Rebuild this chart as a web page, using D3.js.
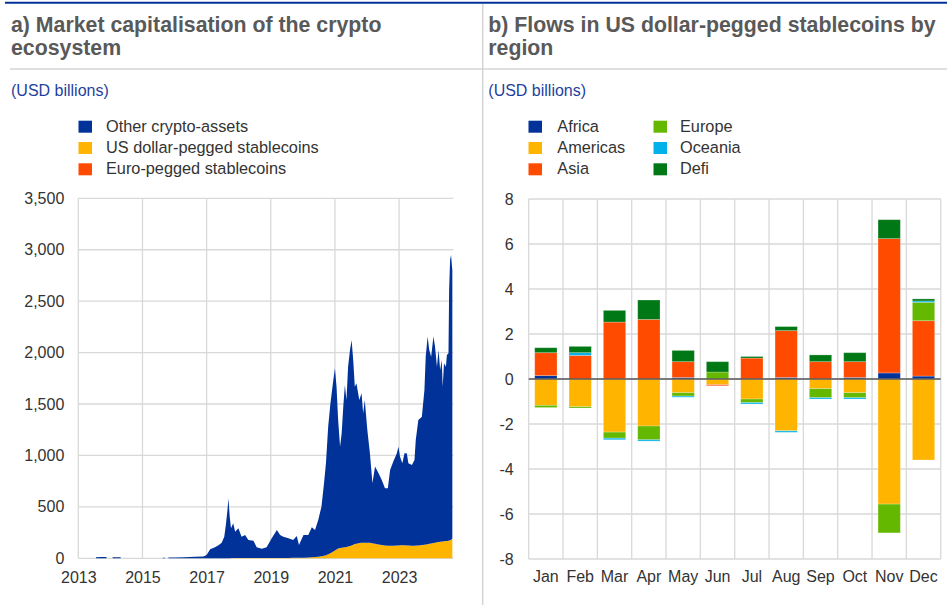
<!DOCTYPE html>
<html>
<head>
    <meta charset="utf-8">
    <title>Crypto market capitalisation and stablecoin flows</title>
    <script src="https://d3js.org/d3.v7.min.js"></script>
    <style>
      body{ margin:0; background:white; }
      text{ font-family:"Liberation Sans", Arial, sans-serif; }
      .title{ font-size:21.3px; font-weight:bold; fill:#595959; }
      .unit{ font-size:16px; fill:#1f3f9c; }
      .legend text{ font-size:16.3px; fill:#333; dominant-baseline:middle; }
      .tick text{ font-size:16px; fill:#333; }
      .grid line{ stroke:#d9d9d9; stroke-width:1.3; }
    </style>
</head>
<body>
<script>
// ---- panel a: market capitalisation (USD billions), x in decimal years ----
var capYears = [2013.55, 2013.70, 2013.88, 2013.95, 2014.07, 2014.20, 2014.32, 2014.40, 2015.63, 2015.70, 2015.75, 2015.81, 2016.00, 2016.30, 2016.64, 2016.90,
  2017.00, 2017.11, 2017.26, 2017.37, 2017.47, 2017.55, 2017.60, 2017.65, 2017.68, 2017.72, 2017.76, 2017.83, 2017.89, 2017.99,
  2018.09, 2018.20, 2018.30, 2018.46, 2018.56, 2018.72, 2018.87,
  2019.03, 2019.19, 2019.29, 2019.39, 2019.55, 2019.70, 2019.81, 2019.88,
  2020.02, 2020.17, 2020.28, 2020.38, 2020.48, 2020.58, 2020.66, 2020.72, 2020.79, 2020.86, 2020.95,
  2021.00, 2021.05, 2021.10, 2021.16, 2021.21, 2021.26, 2021.31, 2021.36, 2021.41, 2021.47, 2021.52, 2021.57, 2021.62, 2021.67, 2021.76, 2021.83, 2021.88, 2021.93,
  2022.01, 2022.09, 2022.17, 2022.25, 2022.36, 2022.46, 2022.56, 2022.65, 2022.72, 2022.82, 2022.93, 2022.98,
  2023.03, 2023.10, 2023.17, 2023.24, 2023.29, 2023.40, 2023.48, 2023.52, 2023.60, 2023.71, 2023.79, 2023.83, 2023.89, 2023.94,
  2024.00, 2024.07, 2024.12, 2024.18, 2024.23, 2024.28, 2024.33, 2024.36, 2024.40, 2024.46, 2024.49, 2024.54, 2024.56, 2024.59, 2024.62, 2024.65, 2024.66];

var otherCrypto = [10, 12, 12, null, 11, 10, 9, null, 6, 6, null, 7, 8, 10, 14, 18,
  31, 86, 106, 125, 151, 209, 323, 469, 582, 404, 290, 338, 257, 290,
  208, 225, 175, 168, 104, 90, 104,
  191, 271, 223, 206, 190, 173, 212, 123,
  221, 219, 291, 263, 356, 482, 704, 894, 1240, 1457, 1668,
  1772, 1583, 1250, 985, 1112, 1369, 1577, 1429, 1748, 1905, 1997, 1796, 1530, 1559, 1391, 1454, 1258, 1387,
  1095, 871, 584, 751, 691, 631, 555, 558, 736, 818, 897, 960,
  862, 797, 895, 896, 799, 785, 834, 1027, 1220, 1249, 1504, 1826, 2018, 1885,
  1817, 2007, 1908, 1708, 1867, 1670, 1766, 1505, 1730, 1696, 1808, 1823, 2437, 2725, 2769, 2647, 2610];

var usdStable = [0, 0, 0, null, 0, 0, 0, null, 0, 0, null, 0, 0, 0, 0, 0,
  1, 1, 1, 1, 1, 1, 1, 1, 1, 1, 2, 2, 2, 2,
  2, 2, 3, 3, 3, 3, 3,
  3, 4, 4, 4, 4, 5, 5, 6,
  6, 8, 10, 12, 16, 20, 25, 30, 40, 50, 65,
  75, 85, 95, 100, 103, 105, 108, 110, 115, 120, 125, 132, 138, 142, 148, 150, 152, 152,
  152, 150, 145, 140, 135, 130, 125, 122, 122, 122, 124, 125,
  126, 126, 126, 125, 124, 122, 122, 123, 125, 128, 132, 134, 137, 140,
  143, 148, 150, 155, 158, 160, 162, 163, 165, 167, 168, 170, 172, 175, 180, 188, 190];

var eurStable = [0, 0, 0, null, 0, 0, 0, null, 0, 0, null, 0, 0, 0, 0, 0,
  0, 0, 0, 0, 0, 0, 0, 0, 0, 0, 0, 0, 0, 0,
  0, 0, 0, 0, 0, 0, 0,
  0, 0, 0, 0, 0, 0, 0, 0,
  0.1, 0.1, 0.1, 0.1, 0.1, 0.1, 0.1, 0.1, 0.2, 0.2, 0.2,
  0.2, 0.2, 0.2, 0.2, 0.2, 0.3, 0.3, 0.3, 0.3, 0.3, 0.3, 0.3, 0.3, 0.3, 0.3, 0.3, 0.3, 0.3,
  0.3, 0.3, 0.3, 0.3, 0.3, 0.3, 0.3, 0.3, 0.3, 0.3, 0.3, 0.3,
  0.3, 0.3, 0.3, 0.4, 0.4, 0.4, 0.4, 0.4, 0.4, 0.4, 0.4, 0.4, 0.4, 0.4,
  0.4, 0.4, 0.4, 0.4, 0.4, 0.5, 0.5, 0.5, 0.5, 0.5, 0.5, 0.5, 0.5, 0.5, 0.5, 0.5, 0.5];

var capTicksX = [2013, 2015, 2017, 2019, 2021, 2023];
var capTicksY = [0, 500, 1000, 1500, 2000, 2500, 3000, 3500];
var capSeries = ["Other crypto-assets", "US dollar-pegged stablecoins", "Euro-pegged stablecoins"];

// ---- panel b: flows in US dollar-pegged stablecoins (USD billions) ----
var months = ["Jan","Feb","Mar","Apr","May","Jun","Jul","Aug","Sep","Oct","Nov","Dec"];
var regions = ["Africa","Americas","Asia","Europe","Oceania","Defi"];
var africa   = [0.15, 0.00, 0.00, 0.00, 0.07, 0.00, 0.00, 0.07, 0.00, 0.07, 0.27, 0.13];
var americas = [-1.17, -1.23, -2.36, -2.09, -0.61, -0.25, -0.89, -2.30, -0.43, -0.61, -5.56, -3.60];
var asia     = [1.02, 1.05, 2.53, 2.65, 0.70, -0.05, 0.93, 2.08, 0.77, 0.70, 5.97, 2.46];
var europe   = [-0.10, -0.06, -0.27, -0.61, -0.15, 0.31, -0.16, -0.01, -0.40, -0.22, -1.28, 0.82];
var oceania  = [0.00, 0.12, -0.07, -0.06, -0.05, 0.00, -0.06, -0.06, -0.06, -0.06, 0.00, 0.06];
var defi     = [0.22, 0.28, 0.52, 0.86, 0.50, 0.46, 0.07, 0.18, 0.30, 0.40, 0.84, 0.09];
var flowTicksY = [-8, -6, -4, -2, 0, 2, 4, 6, 8];

var blue = "#003299", yellow = "#ffb400", orange = "#ff4b00";
var regionColors = [blue, yellow, orange, "#65b800", "#00b1ea", "#007816"];

var svg = d3.select("body").append("svg").attr("width", 947).attr("height", 605);

// frame lines
svg.append("line").attr("x1", 5).attr("x2", 947).attr("y1", 2.7).attr("y2", 2.7).attr("stroke", blue).attr("stroke-width", 2);
svg.append("line").attr("x1", 10).attr("x2", 947).attr("y1", 69).attr("y2", 69).attr("stroke", "#d4d4d4").attr("stroke-width", 1.5);
svg.append("line").attr("x1", 482.7).attr("x2", 482.7).attr("y1", 4).attr("y2", 605).attr("stroke", "#d4d4d4").attr("stroke-width", 1.5);

// titles
function title(x, lines){
  lines.forEach(function(t, i){
    svg.append("text").attr("class", "title").attr("x", x).attr("y", 31.7 + i*23.3).text(t);
  });
  svg.append("text").attr("class", "unit").attr("x", x).attr("y", 96).text("(USD billions)");
}
title(11, ["a) Market capitalisation of the crypto", "ecosystem"]);
title(488.3, ["b) Flows in US dollar-pegged stablecoins by", "region"]);

// ================= panel a =================
var capRows = capYears.map(function(y, i){
  return {year:y, other:otherCrypto[i], usd:usdStable[i], eur:eurStable[i]};
});
var xCap = d3.scaleLinear().domain([2013, 2024.69]).range([78.3, 453.3]);
var yCap = d3.scaleLinear().domain([0, 3500]).range([558.3, 198.3]);

var gA = svg.append("g");
gA.append("g").attr("class", "grid").selectAll("line").data(capTicksY).enter().append("line")
  .attr("x1", xCap(2013)).attr("x2", xCap.range()[1]).attr("y1", yCap).attr("y2", yCap);
gA.append("g").attr("class", "grid").selectAll("line").data(capTicksX).enter().append("line")
  .attr("x1", xCap).attr("x2", xCap).attr("y1", yCap(0)).attr("y2", yCap(3500));

var capStack = d3.stack().keys(["usd", "eur", "other"])(capRows);
var capColor = {usd:yellow, eur:orange, other:blue};
var capArea = d3.area()
  .defined(function(d){ return d.data.other !== null; })
  .x(function(d){ return xCap(d.data.year); })
  .y0(function(d){ return yCap(d[0]); })
  .y1(function(d){ return yCap(d[1]); });
gA.append("g").selectAll("path").data(capStack).enter().append("path")
  .attr("d", capArea).attr("fill", function(d){ return capColor[d.key]; });

gA.append("g").attr("transform", "translate(0," + yCap(0) + ")")
  .call(d3.axisBottom(xCap).tickValues(capTicksX).tickFormat(d3.format("d")).tickSize(0).tickPadding(13))
  .call(function(g){ g.select(".domain").remove(); });
gA.append("g").attr("transform", "translate(" + xCap(2013) + ",0)")
  .call(d3.axisLeft(yCap).tickValues(capTicksY).tickFormat(d3.format(",")).tickSize(0).tickPadding(14))
  .call(function(g){ g.select(".domain").remove(); });

var legA = gA.append("g").attr("class", "legend");
capSeries.forEach(function(name, i){
  var col = [blue, yellow, orange][i];
  legA.append("rect").attr("x", 78.5).attr("y", 120.7 + i*21.3).attr("width", 13.5).attr("height", 12).attr("fill", col);
  legA.append("text").attr("x", 106).attr("y", 127.5 + i*21.3).text(name);
});

// ================= panel b =================
var flowRows = months.map(function(m, i){
  return {month:m, Africa:africa[i], Americas:americas[i], Asia:asia[i], Europe:europe[i], Oceania:oceania[i], Defi:defi[i]};
});
var xFlow = d3.scaleBand().domain(months).range([528.7, 940.7]).paddingInner(0.35).paddingOuter(0.175);
var yFlow = d3.scaleLinear().domain([-8, 8]).range([559, 199]);
var half = xFlow.step()*0.35/2;

var gB = svg.append("g");
gB.append("g").attr("class", "grid").selectAll("line").data(flowTicksY).enter().append("line")
  .attr("x1", 528.7).attr("x2", 940.7).attr("y1", yFlow).attr("y2", yFlow);
gB.append("g").attr("class", "grid").selectAll("line").data(months.concat(["end"])).enter().append("line")
  .attr("x1", function(d){ return d === "end" ? 940.7 : xFlow(d) - half; })
  .attr("x2", function(d){ return d === "end" ? 940.7 : xFlow(d) - half; })
  .attr("y1", yFlow(-8)).attr("y2", yFlow(8));

var flowStack = d3.stack().keys(regions).offset(d3.stackOffsetDiverging)(flowRows);
gB.append("g").selectAll("g").data(flowStack).enter().append("g")
  .attr("fill", function(d, i){ return regionColors[i]; })
  .selectAll("rect").data(function(d){ return d; }).enter().append("rect")
  .attr("x", function(d){ return xFlow(d.data.month); })
  .attr("width", xFlow.bandwidth())
  .attr("y", function(d){ return yFlow(Math.max(d[0], d[1])); })
  .attr("height", function(d){ return Math.abs(yFlow(d[0]) - yFlow(d[1])); })
  .attr("stroke", "#fff").attr("stroke-opacity", 0.3).attr("stroke-width", 0.8);

gB.append("line").attr("x1", 528.7).attr("x2", 940.7).attr("y1", yFlow(0)).attr("y2", yFlow(0))
  .attr("stroke", "#595959").attr("stroke-width", 1.5);

gB.append("g").attr("transform", "translate(0," + yFlow(-8) + ")")
  .call(d3.axisBottom(xFlow).tickSize(0).tickPadding(12))
  .call(function(g){ g.select(".domain").remove(); });
// plain hyphen for negatives, as in the original
gB.append("g").attr("transform", "translate(528.7,0)")
  .call(d3.axisLeft(yFlow).tickValues(flowTicksY).tickFormat(function(d){ return String(d); }).tickSize(0).tickPadding(15))
  .call(function(g){ g.select(".domain").remove(); });

var legB = gB.append("g").attr("class", "legend");
regions.forEach(function(name, i){
  var col = Math.floor(i/3), row = i % 3;
  legB.append("rect").attr("x", 528.5 + col*125).attr("y", 120.7 + row*21.3).attr("width", 13.5).attr("height", 12).attr("fill", regionColors[i]);
  legB.append("text").attr("x", 557.3 + col*122.7).attr("y", 127.5 + row*21.3).text(name);
});
</script>
</body>
</html>
